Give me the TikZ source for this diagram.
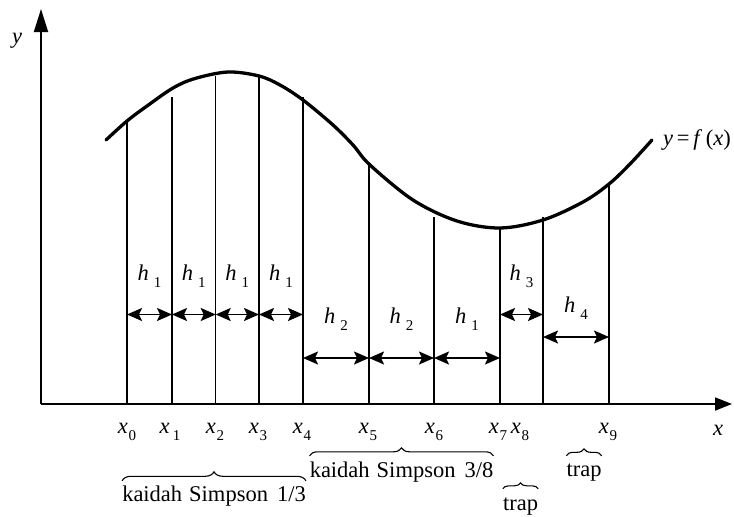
\documentclass[tikz,border=0pt]{standalone}
\usepackage{fontspec}
\setmainfont{Liberation Serif}[ItalicFont={Liberation Serif Italic}]
\usetikzlibrary{arrows.meta,decorations.pathreplacing}

\newcommand{\hsub}[1]{\textit{h}\hspace{5pt}\raisebox{-7pt}{\fontsize{15}{15}\selectfont #1}}
\newcommand{\xsub}[1]{\textit{x}\hspace{1pt}\raisebox{-7pt}{\fontsize{15}{15}\selectfont #1}}

\begin{document}
\begin{tikzpicture}[
    x=1pt, y=-1pt,
    font=\fontsize{22.5}{27}\selectfont,
    axis/.style={line width=1.8pt},
    ordinate/.style={line width=1.3pt},
    curve/.style={line width=3.3pt, line cap=round, line join=round},
    harrow/.style={line width=1.9pt, {Stealth[length=15pt,width=13pt,inset=3pt]}-{Stealth[length=15pt,width=13pt,inset=3pt]}},
    hlab/.style={anchor=base, inner sep=0pt, yshift=34pt},
    xlab/.style={anchor=base, inner sep=0pt},
    rulelab/.style={anchor=base, inner sep=0pt, text height=15pt, text depth=5pt},
    rule/.style={decorate, decoration={brace, amplitude=#1}, line width=1.1pt},
    rule/.default=9pt
]
\useasboundingbox (0,0) rectangle (734,517);

% sumbu koordinat
\coordinate (origin) at (41,404);
\coordinate (xend) at (732,404);
\coordinate (yend) at (41,9);
\draw[axis, -{Triangle[length=17pt,width=13pt]}] (origin) -- (xend);
\draw[axis, -{Triangle[length=23pt,width=14pt]}] (origin) -- (yend);
\node[xlab] (xname) at (718,435) {\textit{x}};
\node[xlab] (yname) at (17,43) {\textit{y}};

% kurva y = f(x)
\draw[curve] plot[smooth, tension=0.55] coordinates {(106,140) (127,121) (147,106) (173,88) (195,78.5) (228,72) (259,76) (280,85) (303,100) (333,125) (353,145) (370,165) (413,200) (457,221) (500,228) (543,220) (583,202) (609,184) (630,164) (652,140)};
\node[anchor=base west, inner sep=0pt] (fx) at (663,145) {\textit{y}\,=\,\textit{f}\,(\textit{x})};

% garis ordinat
\coordinate (b0) at (127,404); \coordinate (t0) at (127,121);
\coordinate (b1) at (172,404); \coordinate (t1) at (172,97);
\coordinate (b2) at (215.7,404); \coordinate (t2) at (215.7,76);
\coordinate (b3) at (259,404); \coordinate (t3) at (259,75);
\coordinate (b4) at (303,404); \coordinate (t4) at (303,97);
\coordinate (b5) at (369,404); \coordinate (t5) at (369,165);
\coordinate (b6) at (434,404); \coordinate (t6) at (434,217);
\coordinate (b7) at (500,404); \coordinate (t7) at (500,228);
\coordinate (b8) at (543,404); \coordinate (t8) at (543,217);
\coordinate (b9) at (609,404); \coordinate (t9) at (609,184);
\draw[ordinate] (b0) -- (t0);
\draw[ordinate] (b1) -- (t1);
\draw[ordinate] (b2) -- (t2);
\draw[ordinate] (b3) -- (t3);
\draw[ordinate] (b4) -- (t4);
\draw[ordinate] (b5) -- (t5);
\draw[ordinate] (b6) -- (t6);
\draw[ordinate] (b7) -- (t7);
\draw[ordinate] (b8) -- (t8);
\draw[ordinate] (b9) -- (t9);

% lebar pias
\coordinate (row1) at (0,314.5);
\coordinate (row2) at (0,358);
\coordinate (row3) at (0,337);
\draw[harrow] (b0 |- row1) -- node[hlab] {\hsub{1}} (b1 |- row1);
\draw[harrow] (b1 |- row1) -- node[hlab] {\hsub{1}} (b2 |- row1);
\draw[harrow] (b2 |- row1) -- node[hlab] {\hsub{1}} (b3 |- row1);
\draw[harrow] (b3 |- row1) -- node[hlab] {\hsub{1}} (b4 |- row1);
\draw[harrow] (b4 |- row2) -- node[hlab, yshift=1pt] {\hsub{2}} (b5 |- row2);
\draw[harrow] (b5 |- row2) -- node[hlab, yshift=1pt] {\hsub{2}} (b6 |- row2);
\draw[harrow] (b6 |- row2) -- node[hlab, yshift=1pt] {\hsub{1}} (b7 |- row2);
\draw[harrow] (b7 |- row1) -- node[hlab] {\hsub{3}} (b8 |- row1);
\draw[harrow] (b8 |- row3) -- node[hlab, yshift=-9pt] {\hsub{4}} (b9 |- row3);

% label titik x
\node[xlab] (lx0) at (127,433) {\xsub{0}};
\node[xlab] (lx1) at (170,433) {\xsub{\,1}};
\node[xlab] (lx2) at (215,433) {\xsub{2}};
\node[xlab] (lx3) at (258,433) {\xsub{3}};
\node[xlab] (lx4) at (302,433) {\xsub{4}};
\node[xlab] (lx5) at (368,433) {\xsub{5}};
\node[xlab] (lx6) at (434,433) {\xsub{6}};
\node[xlab] (lx7) at (498,433) {\xsub{7}};
\node[xlab] (lx8) at (520,433) {\xsub{8}};
\node[xlab] (lx9) at (608,433) {\xsub{9}};

% kaidah yang dipakai
\node[rulelab] (simp13) at (214,501) {kaidah\hspace{7pt}Simpson\hspace{9pt}1/3};
\node[rulelab] (simp38) at (401.5,477) {kaidah\hspace{7pt}Simpson\hspace{9pt}3/8};
\node[rulelab] (trapa) at (520.5,510) {trap};
\node[rulelab] (trapb) at (584,476) {trap};
\draw[rule] ([yshift=5pt]simp13.north west) -- ([yshift=5pt]simp13.north east);
\draw[rule=8pt] ([yshift=6pt]simp38.north west) -- ([yshift=6pt]simp38.north east);
\draw[rule=6pt] ([yshift=6pt]trapa.north west) -- ([yshift=6pt]trapa.north east);
\draw[rule=7pt] ([yshift=5pt]trapb.north west) -- ([yshift=5pt]trapb.north east);
\end{tikzpicture}
\end{document}
